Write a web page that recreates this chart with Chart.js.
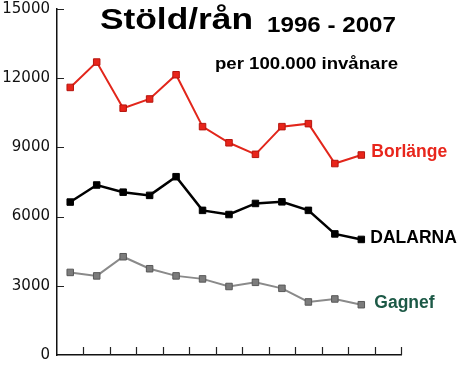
<!DOCTYPE html>
<html>
<head>
<meta charset="utf-8">
<script src="https://cdn.jsdelivr.net/npm/chart.js@4"></script>
<style>
    html, body { margin: 0; padding: 0; background: #fff; }
    #wrap { width: 459px; height: 372px; }
</style>
</head>
<body>
<div id="wrap"><canvas id="theft"></canvas></div>
<script>
var years = ['1996', '1997', '1998', '1999', '2000', '2001', '2002', '2003', '2004', '2005', '2006', '2007', ''];
var borlange = [11600, 12700, 10700, 11100, 12150, 9900, 9200, 8700, 9900, 10030, 8300, 8670];
var dalarna = [6630, 7370, 7060, 6920, 7730, 6270, 6090, 6570, 6640, 6270, 5250, 5010];
var gagnef = [3580, 3430, 4260, 3740, 3430, 3300, 2970, 3150, 2890, 2300, 2430, 2180];
var yTicks = [0, 3000, 6000, 9000, 12000, 15000];

var seriesNames = ['Borlänge', 'DALARNA', 'Gagnef'];

// draws text squeezed/stretched to a given width
function fitText(ctx, text, x, y, width, font) {
    ctx.save();
    ctx.font = font;
    var w = ctx.measureText(text).width;
    ctx.translate(x, y);
    ctx.scale(width / w, 1);
    ctx.fillText(text, 0, 0);
    ctx.restore();
}

var headerPlugin = {
    id: 'header',
    afterDraw: function(chart) {
        var ctx = chart.ctx;
        ctx.save();
        ctx.fillStyle = '#000';
        ctx.textBaseline = 'alphabetic';
        ctx.textAlign = 'left';
        fitText(ctx, 'Stöld/rån', 100, 29, 153, 'bold 29px "Liberation Sans", Arial, sans-serif');
        fitText(ctx, '1996 - 2007', 267, 31.5, 129, 'bold 22px "Liberation Sans", Arial, sans-serif');
        fitText(ctx, 'per 100.000 invånare', 215, 69, 183, 'bold 16px "Liberation Sans", Arial, sans-serif');
        ctx.restore();
    }
};

// inward tick marks on both axes
var innerTicksPlugin = {
    id: 'innerTicks',
    afterDraw: function(chart) {
        var ctx = chart.ctx;
        var x = chart.scales.x;
        var y = chart.scales.y;
        var area = chart.chartArea;
        ctx.save();
        ctx.strokeStyle = '#222';
        ctx.lineWidth = 1.2;
        ctx.beginPath();
        var half = (x.getPixelForTick(1) - x.getPixelForTick(0)) / 2;
        for (var i = 0; i < years.length; i++) {
            var px = Math.round(x.getPixelForTick(i) + half) + 0.5;
            ctx.moveTo(px, area.bottom);
            ctx.lineTo(px, area.bottom - 8);
        }
        y.ticks.forEach(function(t, j) {
            if (t.value === 0) return;
            var py = Math.round(y.getPixelForTick(j)) + 0.5;
            ctx.moveTo(area.left, py);
            ctx.lineTo(area.left + 7, py);
        });
        ctx.stroke();
        ctx.restore();
    }
};

var endLabelsPlugin = {
    id: 'endLabels',
    afterDatasetsDraw: function(chart, args, opts) {
        var ctx = chart.ctx;
        ctx.save();
        ctx.font = 'bold 17.5px "Liberation Sans", Arial, sans-serif';
        ctx.textBaseline = 'middle';
        ctx.textAlign = 'left';
        chart.data.datasets.forEach(function(ds, i) {
            var meta = chart.getDatasetMeta(i);
            var last = meta.data[meta.data.length - 1];
            var off = opts.offsets[i];
            ctx.fillStyle = opts.colors[i];
            ctx.fillText(ds.label, last.x + off[0], last.y + off[1]);
        });
        ctx.restore();
    }
};

new Chart('theft', {
    type: 'line',
    data: {
        labels: years,
        datasets: [{
            label: seriesNames[0],
            data: borlange,
            borderColor: '#e2261b',
            backgroundColor: '#e8241a',
            pointBorderColor: '#b5150e',
            borderWidth: 2,
            pointStyle: 'rect',
            pointRadius: 4.6,
            pointBorderWidth: 1
        }, {
            label: seriesNames[1],
            data: dalarna,
            borderColor: '#000',
            backgroundColor: '#000',
            pointBorderColor: '#000',
            borderWidth: 2.5,
            pointStyle: 'rect',
            pointRadius: 4.6,
            pointBorderWidth: 1
        }, {
            label: seriesNames[2],
            data: gagnef,
            borderColor: '#8a8a8a',
            backgroundColor: '#7c7c7c',
            pointBorderColor: '#585858',
            borderWidth: 2,
            pointStyle: 'rect',
            pointRadius: 4.6,
            pointBorderWidth: 1
        }]
    },
    options: {
        responsive: true,
        maintainAspectRatio: false,
        animation: false,
        events: [],
        layout: { padding: { top: 9, right: 58, bottom: 17, left: 0 } },
        plugins: {
            legend: { display: false },
            tooltip: { enabled: false },
            endLabels: {
                colors: ['#e8261c', '#000', '#1c5946'],
                offsets: [[10, -3], [9, -1], [13, -2]]
            }
        },
        scales: {
            x: {
                offset: true,
                grid: { display: false, drawTicks: false },
                border: { display: true, color: '#111', width: 1.5 },
                ticks: { display: false }
            },
            y: {
                min: 0,
                max: 15000,
                afterBuildTicks: function(scale) {
                    scale.ticks = yTicks.map(function(v) { return { value: v }; });
                },
                afterFit: function(scale) {
                    scale.width = 57;
                    scale.paddingTop = 0;
                    scale.paddingBottom = 0;
                },
                grid: { display: false, drawTicks: false },
                border: { display: true, color: '#111', width: 1.5 },
                ticks: {
                    padding: 7,
                    color: '#111',
                    font: { family: '"DejaVu Sans", Verdana, sans-serif', size: 15 },
                    callback: function(value) { return String(value); }
                }
            }
        }
    },
    plugins: [headerPlugin, innerTicksPlugin, endLabelsPlugin]
});
</script>
</body>
</html>
